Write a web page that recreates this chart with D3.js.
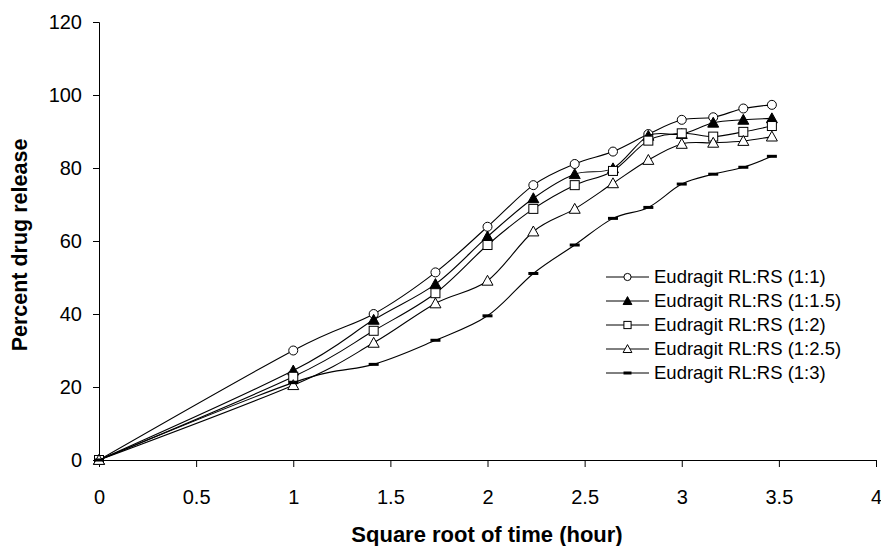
<!DOCTYPE html>
<html><head><meta charset="utf-8">
<script src="https://cdn.jsdelivr.net/npm/d3@7"></script>
<style>body{margin:0;background:#fff;}svg{display:block;}</style>
</head><body>
<svg id="c" width="881" height="546"></svg>
<script>
const xValues = [0, 1, 1.414, 1.732, 2, 2.236, 2.449, 2.646, 2.828, 3, 3.162, 3.317, 3.464];
const seriesNames = ["Eudragit RL:RS (1:1)", "Eudragit RL:RS (1:1.5)", "Eudragit RL:RS (1:2)", "Eudragit RL:RS (1:2.5)", "Eudragit RL:RS (1:3)"];
const s11  = [0, 30.0, 40.0, 51.4, 63.9, 75.3, 81.1, 84.5, 89.3, 93.2, 93.9, 96.3, 97.3];
const s115 = [0, 24.5, 38.4, 48.2, 61.2, 71.7, 78.3, 79.9, 88.8, 89.3, 92.4, 93.2, 93.6];
const s12  = [0, 22.8, 35.4, 45.7, 58.9, 68.8, 75.3, 79.2, 87.5, 89.5, 88.6, 89.9, 91.5];
const s125 = [0, 20.5, 32.1, 42.9, 49.1, 62.6, 68.8, 75.8, 82.2, 86.6, 86.9, 87.4, 88.6];
const s13  = [0, 21.2, 26.2, 32.8, 39.5, 51.1, 58.9, 66.2, 69.2, 75.6, 78.3, 80.2, 83.2];
const markerTypes = ["circle", "filledTriangle", "square", "triangle", "dash"];
const xTicks = [0, 0.5, 1, 1.5, 2, 2.5, 3, 3.5, 4];
const yTicks = [0, 20, 40, 60, 80, 100, 120];

const svg = d3.select("#c");
const x = d3.scaleLinear().domain([0, 4]).range([99, 876]);
const y = d3.scaleLinear().domain([0, 120]).range([460, 22]);
const font = "'Liberation Sans', Arial, sans-serif";

// axes
const xAxis = svg.append("g").attr("transform", "translate(0,460)")
  .call(d3.axisBottom(x).tickValues(xTicks).tickSize(7).tickPadding(23).tickFormat(d => String(d)));
const yAxis = svg.append("g").attr("transform", "translate(99,0)")
  .call(d3.axisLeft(y).tickValues(yTicks).tickSize(6).tickPadding(11));
[xAxis, yAxis].forEach(g => {
  g.select(".domain").attr("stroke", "#000").attr("stroke-width", 1);
  g.selectAll(".tick line").attr("stroke", "#000");
  g.selectAll("text").attr("font-family", font).attr("font-size", 20).attr("fill", "#000");
});

svg.append("text").attr("x", 487).attr("y", 542).attr("text-anchor", "middle")
  .attr("font-family", font).attr("font-size", 22).attr("font-weight", "bold").text("Square root of time (hour)");
svg.append("text").attr("transform", "translate(27,245) rotate(-90)").attr("text-anchor", "middle")
  .attr("font-family", font).attr("font-size", 21.5).attr("font-weight", "bold").text("Percent drug release");

const allSeries = [s11, s115, s12, s125, s13];
const line = d3.line().x((d, i) => x(xValues[i])).y(d => y(d)).curve(d3.curveCatmullRom.alpha(0));

function drawMarker(g, type, cx, cy, k) {
  k = k || 1;
  if (type === "circle") {
    g.append("circle").attr("cx", cx).attr("cy", cy).attr("r", 4.5 * k).attr("fill", "#fff").attr("stroke", "#000");
  } else if (type === "filledTriangle" || type === "triangle") {
    const s = 5.5 * k;
    g.append("path").attr("d", `M${cx},${cy - s}L${cx + s},${cy + s * 0.8}L${cx - s},${cy + s * 0.8}Z`)
      .attr("fill", type === "filledTriangle" ? "#000" : "#fff").attr("stroke", "#000");
  } else if (type === "square") {
    const h = 4.5 * k;
    g.append("rect").attr("x", cx - h).attr("y", cy - h).attr("width", 2 * h).attr("height", 2 * h)
      .attr("fill", "#fff").attr("stroke", "#000");
  } else if (type === "dash") {
    g.append("rect").attr("x", cx - 5 * k).attr("y", cy - 1.5).attr("width", 10 * k).attr("height", 3).attr("fill", "#000");
  }
}

allSeries.forEach((vals, si) => {
  const g = svg.append("g");
  g.append("path").attr("d", line(vals)).attr("fill", "none").attr("stroke", "#000").attr("stroke-width", 1.1);
  vals.forEach((v, i) => drawMarker(g, markerTypes[si], x(xValues[i]), y(v)));
});

// legend
const lg = svg.append("g");
seriesNames.forEach((name, i) => {
  const cy = 277 + i * 24;
  lg.append("line").attr("x1", 606).attr("x2", 649).attr("y1", cy).attr("y2", cy).attr("stroke", "#000");
  drawMarker(lg, markerTypes[i], 627.5, cy, 0.8);
  lg.append("text").attr("x", 654).attr("y", cy + 6).attr("font-family", font).attr("font-size", 18.5).text(name);
});
</script>
</body></html>
